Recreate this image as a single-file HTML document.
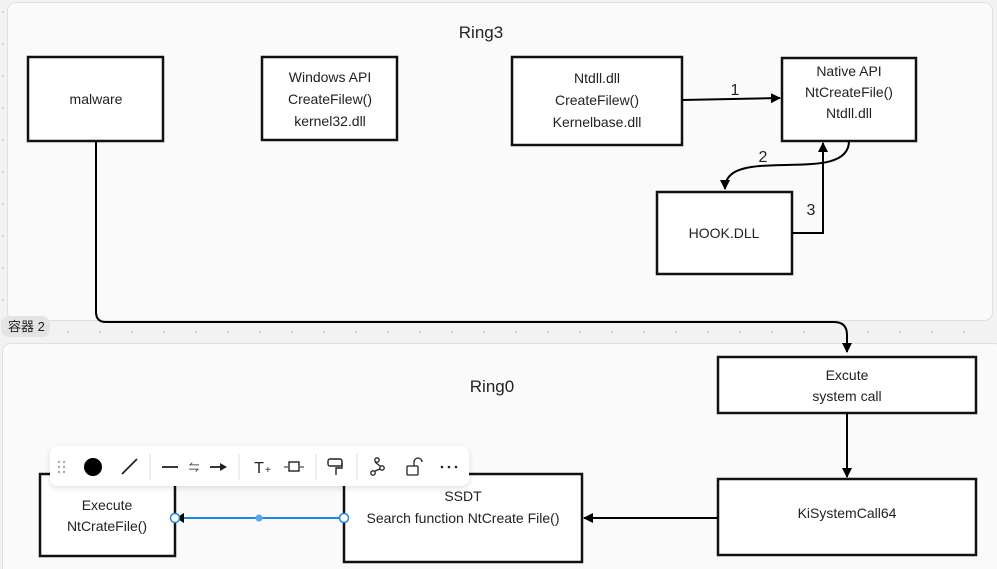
<!DOCTYPE html>
<html><head><meta charset="utf-8"><style>
html,body{margin:0;padding:0;background:#f2f2f2;width:997px;height:569px;overflow:hidden}
svg{display:block}
text{font-family:"Liberation Sans","Noto Sans CJK SC",sans-serif;fill:#222}
</style></head><body>
<svg width="997" height="569" viewBox="0 0 997 569">
<defs>
<marker id="ah" markerWidth="10" markerHeight="10" refX="9" refY="5" orient="auto" markerUnits="userSpaceOnUse"><path d="M0,0 L10,5 L0,10 z" fill="#000"/></marker>
<filter id="sh" x="-10%" y="-50%" width="120%" height="200%"><feDropShadow dx="0" dy="2" stdDeviation="3" flood-color="#000" flood-opacity="0.12"/></filter>
</defs>
<rect x="0" y="0" width="997" height="569" fill="#f2f2f2"/>
<!-- containers -->
<rect x="7.5" y="2.5" width="985" height="318" rx="8" fill="#fafafa" stroke="#e0e0e0"/>
<rect x="2.5" y="343.5" width="1000" height="240" rx="8" fill="#fafafa" stroke="#e0e0e0"/>
<g fill="#c8c8c8">
<circle cx="3" cy="12" r="1"/><circle cx="3" cy="44" r="1"/><circle cx="3" cy="76" r="1"/><circle cx="3" cy="108" r="1"/><circle cx="3" cy="140" r="1"/><circle cx="3" cy="172" r="1"/><circle cx="3" cy="204" r="1"/><circle cx="3" cy="236" r="1"/><circle cx="3" cy="268" r="1"/><circle cx="3" cy="300" r="1"/>
</g>
<g fill="#c0c0c0" id="dots">
<circle cx="68" cy="332" r="1"/><circle cx="100" cy="332" r="1"/><circle cx="132" cy="332" r="1"/><circle cx="164" cy="332" r="1"/><circle cx="196" cy="332" r="1"/><circle cx="228" cy="332" r="1"/><circle cx="260" cy="332" r="1"/><circle cx="292" cy="332" r="1"/><circle cx="324" cy="332" r="1"/><circle cx="356" cy="332" r="1"/><circle cx="388" cy="332" r="1"/><circle cx="420" cy="332" r="1"/><circle cx="452" cy="332" r="1"/><circle cx="484" cy="332" r="1"/><circle cx="516" cy="332" r="1"/><circle cx="548" cy="332" r="1"/><circle cx="580" cy="332" r="1"/><circle cx="612" cy="332" r="1"/><circle cx="644" cy="332" r="1"/><circle cx="676" cy="332" r="1"/><circle cx="708" cy="332" r="1"/><circle cx="740" cy="332" r="1"/><circle cx="772" cy="332" r="1"/><circle cx="804" cy="332" r="1"/><circle cx="868" cy="332" r="1"/><circle cx="900" cy="332" r="1"/><circle cx="932" cy="332" r="1"/><circle cx="964" cy="332" r="1"/>
</g>
<rect x="1" y="316" width="49" height="21" rx="8" fill="#e4e4e4"/>
<text x="8" y="331" font-size="13" fill="#444">容器 2</text>
<text x="481" y="38" font-size="17" text-anchor="middle">Ring3</text>
<text x="492" y="392" font-size="17" text-anchor="middle">Ring0</text>
<!-- boxes -->
<g fill="#fff" stroke="#111" stroke-width="2.5">
<rect x="28" y="57" width="135" height="84"/>
<rect x="262" y="57" width="135" height="83"/>
<rect x="512" y="57" width="170" height="88"/>
<rect x="782" y="58" width="134" height="83"/>
<rect x="657" y="192" width="135" height="82"/>
<rect x="718" y="357" width="258" height="56"/>
<rect x="718" y="479" width="258" height="76"/>
<rect x="344" y="474" width="238" height="88"/>
<rect x="40" y="474" width="135" height="82"/>
</g>
<g font-size="14" text-anchor="middle">
<text x="96" y="104">malware</text>
<text x="330" y="82">Windows API</text><text x="330" y="104">CreateFilew()</text><text x="330" y="126">kernel32.dll</text>
<text x="597" y="83">Ntdll.dll</text><text x="597" y="105">CreateFilew()</text><text x="597" y="127">Kernelbase.dll</text>
<text x="849" y="76">Native API</text><text x="849" y="97">NtCreateFile()</text><text x="849" y="118">Ntdll.dll</text>
<text x="724" y="238">HOOK.DLL</text>
<text x="847" y="380">Excute</text><text x="847" y="401">system call</text>
<text x="847" y="518">KiSystemCall64</text>
<text x="463" y="501">SSDT</text><text x="463" y="523">Search function NtCreate File()</text>
<text x="107" y="510">Execute</text><text x="107" y="531">NtCrateFile()</text>
</g>
<!-- connectors -->
<g fill="none" stroke="#000" stroke-width="2">
<path d="M96,141 V312 Q96,322 106,322 H834 Q847,322 847,335 V352" marker-end="url(#ah)"/>
<path d="M682,100 L780,98" marker-end="url(#ah)"/>
<path d="M849,141 C849,170 800,163 760,166 C735,168 725,175 725,189" marker-end="url(#ah)"/>
<path d="M792,233 H823 V143" marker-end="url(#ah)"/>
<path d="M847,413 V477" marker-end="url(#ah)"/>
<path d="M718,518 H584" marker-end="url(#ah)"/>
</g>
<g font-size="16" text-anchor="middle"><text x="735" y="95">1</text><text x="763" y="162">2</text><text x="811" y="215">3</text></g>
<!-- selected blue connector -->
<line x1="344" y1="518" x2="178" y2="518" stroke="#1e88e5" stroke-width="2"/>
<path d="M176,518 L184,513 L184,523 z" fill="#000"/>
<circle cx="175" cy="518" r="4.5" fill="#fff" stroke="#1e88e5" stroke-width="1.5"/>
<circle cx="344" cy="518" r="4.5" fill="#fff" stroke="#1e88e5" stroke-width="1.5"/>
<circle cx="259" cy="518" r="3.5" fill="#5aa5ef"/>
<!-- toolbar -->
<rect x="50" y="446" width="419" height="40" rx="8" fill="#fff" filter="url(#sh)"/>
<g fill="#aaa"><circle cx="59" cy="462" r="1.2"/><circle cx="64" cy="462" r="1.2"/><circle cx="59" cy="467" r="1.2"/><circle cx="64" cy="467" r="1.2"/><circle cx="59" cy="472" r="1.2"/><circle cx="64" cy="472" r="1.2"/></g>
<circle cx="93" cy="467" r="9" fill="#000"/>
<line x1="122" y1="474" x2="137" y2="459" stroke="#222" stroke-width="1.8"/>
<g stroke="#ddd"><line x1="150" y1="454" x2="150" y2="480"/><line x1="239" y1="454" x2="239" y2="480"/><line x1="316" y1="454" x2="316" y2="480"/><line x1="357" y1="454" x2="357" y2="480"/></g>
<line x1="162" y1="467" x2="178" y2="467" stroke="#222" stroke-width="1.8"/>
<text x="194" y="471" font-size="11" text-anchor="middle" fill="#aaa">⇋</text>
<line x1="210" y1="467" x2="222" y2="467" stroke="#222" stroke-width="1.8"/><path d="M220,463 L227,467 L220,471 z" fill="#222"/>
<text x="259" y="473" font-size="16" text-anchor="middle" fill="#222">T</text><text x="265" y="473" font-size="10" fill="#222">+</text>
<rect x="289" y="462" width="10" height="9" fill="none" stroke="#222" stroke-width="1.4"/><line x1="284" y1="467" x2="288" y2="467" stroke="#222"/><line x1="300" y1="467" x2="304" y2="467" stroke="#222"/>
<rect x="328" y="459" width="14" height="7" rx="2" fill="none" stroke="#222" stroke-width="1.4"/><path d="M342,463 V468 H336 V475" fill="none" stroke="#222" stroke-width="1.4"/>
<g fill="none" stroke="#222" stroke-width="1.3"><circle cx="377" cy="460" r="2.2"/><circle cx="373" cy="473" r="2.2"/><circle cx="382" cy="468" r="2.2"/><line x1="375" y1="462" x2="380" y2="466"/><line x1="375" y1="471" x2="380" y2="469"/>
<rect x="407" y="466" width="11" height="9" rx="1"/><path d="M414,466 V462 A4,4 0 0 1 422,462"/></g>
<g fill="#222"><circle cx="442" cy="467" r="1.3"/><circle cx="449" cy="467" r="1.3"/><circle cx="456" cy="467" r="1.3"/></g>
</svg>
</body></html>
